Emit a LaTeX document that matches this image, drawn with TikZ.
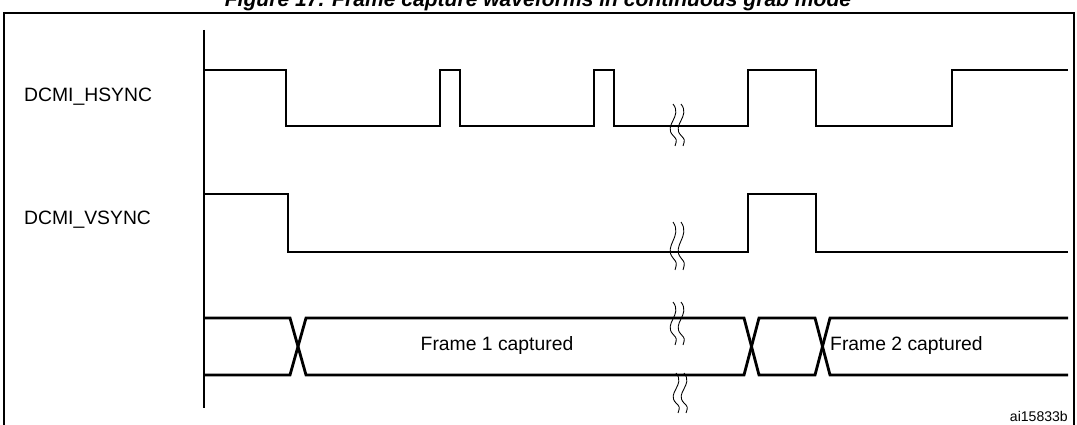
\documentclass[tikz,border=0pt]{standalone}
\usepackage{fontspec}
\setmainfont{Liberation Sans}
\tikzset{wave/.style={line width=1.6pt},
  lbl/.style={anchor=west,font=\fontsize{11}{13}\selectfont},
  brk/.style={line width=0.5pt}}
\newcommand{\squig}[3]{% x, y top, y bottom
  \pgfmathsetmacro{\hh}{#3-#2}
  \foreach \dx in {0,8}{
    \begin{scope}[shift={(#1+\dx,#2)}]
      \draw[brk] (0,0) .. controls (10,0.3*\hh) and (-10,0.5*\hh) .. (0,0.75*\hh)
        .. controls (4,0.85*\hh) .. (2,\hh);
    \end{scope}}}
\begin{document}
\begin{tikzpicture}[x=0.02cm,y=-0.02cm]
  \useasboundingbox (0,0) rectangle (1077,425);
  \node[font=\bfseries\itshape\fontsize{12}{14}\selectfont] (title) at (538,1) {Figure 17. Frame capture waveforms in continuous grab mode};
  \draw[line width=1.2pt] (4,440) -- (4,13) -- (1074,13) -- (1074,440);
  \draw[line width=0.7pt] (204,30) -- (204,408);
  \node[lbl] (hs) at (18,97) {DCMI\_HSYNC};
  \node[lbl] (vs) at (18,220) {DCMI\_VSYNC};
  % HSYNC
  \draw[wave] (204,70) -- (286,70) -- (286,126) -- (440,126) -- (440,70) -- (460,70) -- (460,126)
    -- (594,126) -- (594,70) -- (614,70) -- (614,126) -- (748,126) -- (748,70) -- (816,70)
    -- (816,126) -- (952,126) -- (952,70) -- (1068,70);
  % VSYNC
  \draw[wave] (204,194) -- (288,194) -- (288,252) -- (748,252) -- (748,194) -- (816,194)
    -- (816,252) -- (1068,252);
  % data bus
  \draw[wave] (204,318) -- (290,318) -- (306,375) -- (744,375) -- (759,318) -- (815,318) -- (830,375) -- (1068,375);
  \draw[wave] (204,375) -- (290,375) -- (306,318) -- (744,318) -- (759,375) -- (815,375) -- (830,318) -- (1068,318);
  \node[lbl,anchor=center] (f1) at (497,346) {Frame 1 captured};
  \node[lbl] (f2) at (824,346) {Frame 2 captured};
  \node[anchor=east,font=\fontsize{8}{9}\selectfont] (id) at (1074,416) {ai15833b};
  % breaks
  \squig{673}{104}{146}
  \squig{673}{222}{270}
  \squig{673}{302}{345}
  \squig{676}{373}{413}
\end{tikzpicture}
\end{document}
